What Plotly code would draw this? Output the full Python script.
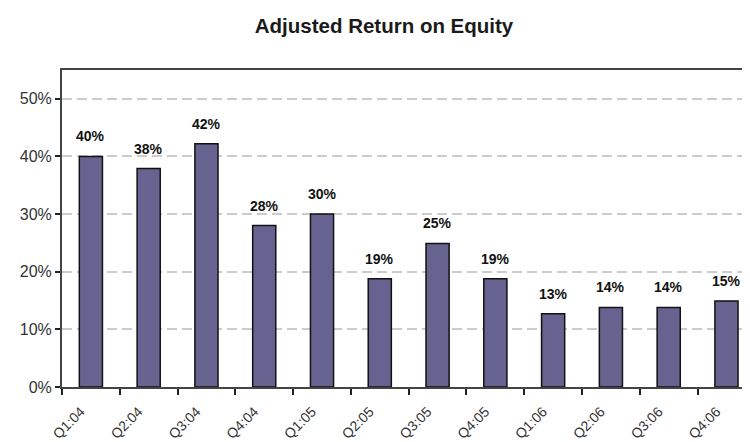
import plotly.graph_objects as go

quarters = ["Q1:04", "Q2:04", "Q3:04", "Q4:04", "Q1:05", "Q2:05",
            "Q3:05", "Q4:05", "Q1:06", "Q2:06", "Q3:06", "Q4:06"]
roe_values = [40, 37.9, 42.2, 28, 30, 18.8, 24.9, 18.8, 12.7, 13.8, 13.8, 14.9]
roe_labels = ["40%", "38%", "42%", "28%", "30%", "19%",
              "25%", "19%", "13%", "14%", "14%", "15%"]
y_ticks = [0, 10, 20, 30, 40, 50]
y_tick_labels = ["0%", "10%", "20%", "30%", "40%", "50%"]

# page body has an 8px margin; figure sized so that it fits the 750x442 window
W, H = 742, 434

fig = go.Figure()
fig.add_trace(go.Bar(
    x=quarters, y=roe_values,
    marker=dict(color="#676390", line=dict(color="#111111", width=1.5)),
    width=0.4, hoverinfo="skip",
))

for q, v, lab in zip(quarters, roe_values, roe_labels):
    fig.add_annotation(x=q, y=v, text="<b>" + lab + "</b>", showarrow=False,
                       yanchor="bottom", yshift=10,
                       font=dict(family="Arial", size=14, color="#111111"))

fig.update_layout(
    width=W, height=H,
    margin=dict(l=54, r=1, t=62, b=55),
    paper_bgcolor="white", plot_bgcolor="white",
    showlegend=False,
    title=dict(text="<b>Adjusted Return on Equity</b>", x=376 / W, xanchor="center",
               y=1 - 18 / H, yanchor="middle",
               font=dict(family="Arial", size=20.5, color="#1a1a1a")),
)

fig.update_xaxes(
    type="category", range=[-0.5, 11.39], automargin=False,
    showline=True, linecolor="#444444", linewidth=2, mirror=True,
    ticks="outside", tickson="boundaries", ticklen=6, tickcolor="#222222", tickwidth=1.5,
    tickangle=-45, tickfont=dict(family="Arial", size=14, color="#333333"),
    ticklabelstandoff=9, ticklabelshift=-10,
    showgrid=False,
)
fig.update_yaxes(
    range=[0, 55], tickvals=y_ticks, ticktext=y_tick_labels, automargin=False,
    showline=True, linecolor="#444444", linewidth=2,
    ticks="outside", ticklen=5, tickcolor="#222222", tickwidth=1.5,
    tickfont=dict(family="Arial", size=16, color="#333333"),
    showgrid=True, gridcolor="#cccccc", griddash="10px,5px", gridwidth=1.5,
    zeroline=False,
)

fig.write_html("out.html")
